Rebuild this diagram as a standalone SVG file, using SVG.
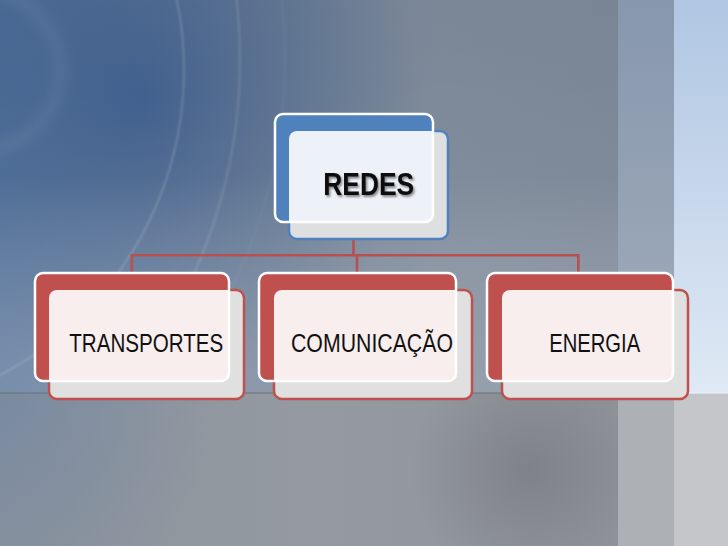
<svg xmlns="http://www.w3.org/2000/svg" width="728" height="546" viewBox="0 0 728 546">
  <defs>
    <linearGradient id="bgH" x1="0" y1="0" x2="1" y2="0">
      <stop offset="0" stop-color="#4e6d96"/>
      <stop offset="0.35" stop-color="#6c7d93"/>
      <stop offset="0.6" stop-color="#7b8797"/>
      <stop offset="1" stop-color="#788394"/>
    </linearGradient>
    <linearGradient id="bgV" x1="0" y1="0" x2="0" y2="1">
      <stop offset="0" stop-color="#ffffff" stop-opacity="0"/>
      <stop offset="0.45" stop-color="#ffffff" stop-opacity="0.04"/>
      <stop offset="1" stop-color="#c8ccd2" stop-opacity="0.35"/>
    </linearGradient>
    <radialGradient id="blob" cx="140" cy="100" r="280" gradientUnits="userSpaceOnUse">
      <stop offset="0" stop-color="#2f5288" stop-opacity="0.7"/>
      <stop offset="0.6" stop-color="#3a5b8a" stop-opacity="0.3"/>
      <stop offset="1" stop-color="#3a5b8a" stop-opacity="0"/>
    </radialGradient>
    <linearGradient id="band" x1="0" y1="0" x2="0" y2="1">
      <stop offset="0" stop-color="#8797ad"/>
      <stop offset="1" stop-color="#a2adbb"/>
    </linearGradient>
    <linearGradient id="sky" x1="0" y1="0" x2="0" y2="1">
      <stop offset="0" stop-color="#b0c6e2"/>
      <stop offset="1" stop-color="#dfe9f5"/>
    </linearGradient>
    <linearGradient id="floor" x1="0" y1="0" x2="1" y2="0">
      <stop offset="0" stop-color="#8a929c"/>
      <stop offset="0.5" stop-color="#959aa1"/>
      <stop offset="1" stop-color="#90949a"/>
    </linearGradient>
    <radialGradient id="floorDark" cx="530" cy="470" r="120" gradientUnits="userSpaceOnUse">
      <stop offset="0" stop-color="#6f7378" stop-opacity="0.55"/>
      <stop offset="1" stop-color="#6f7378" stop-opacity="0"/>
    </radialGradient>
    <radialGradient id="floorSide" cx="0" cy="400" r="220" gradientUnits="userSpaceOnUse">
      <stop offset="0" stop-color="#6a83a5" stop-opacity="0.5"/>
      <stop offset="1" stop-color="#6a83a5" stop-opacity="0"/>
    </radialGradient>
    <filter id="shadow" x="-20%" y="-30%" width="140%" height="160%">
      <feDropShadow dx="1.5" dy="2" stdDeviation="1.2" flood-color="#000" flood-opacity="0.45"/>
    </filter>
    <filter id="soft" x="-50%" y="-50%" width="200%" height="200%">
      <feGaussianBlur stdDeviation="6"/>
    </filter>
    <filter id="soft1" x="-10%" y="-10%" width="120%" height="120%">
      <feGaussianBlur stdDeviation="0.8"/>
    </filter>
  </defs>
  <style>
    .arc { fill: none; stroke: #ffffff; }
    .conn { fill: none; stroke: #b8504d; stroke-width: 2.6; }
    .frontR { fill: #e0e0e0; stroke: #c0504d; stroke-width: 2.5; }
    .backR { fill: #c0504d; }
    .ovR { fill: #f8eeee; }
    .frontB { fill: #dedfe1; stroke: #4f81bd; stroke-width: 2.5; }
    .backB { fill: #4f81bd; }
    .ovB { fill: #edf2f9; }
    .edge { fill: none; stroke: #ffffff; stroke-width: 2.5; }
    .lbl { font-family: "Liberation Sans", Arial, sans-serif; font-size: 26px; fill: #111111; text-anchor: middle; }
    .title { font-family: "Liberation Sans", Arial, sans-serif; font-size: 32px; font-weight: bold; fill: #0a0a0a; text-anchor: middle; }
  </style>

  <!-- background -->
  <g id="background">
    <rect x="0" y="0" width="728" height="393" fill="url(#bgH)"/>
    <rect x="0" y="0" width="728" height="393" fill="url(#blob)"/>
    <rect x="0" y="0" width="728" height="393" fill="url(#bgV)"/>
    <circle cx="-20" cy="70" r="80" class="arc" stroke-width="14" stroke-opacity="0.06" filter="url(#soft)"/>
    <g filter="url(#soft1)">
      <circle cx="-161" cy="70" r="345" class="arc" stroke-width="1.6" stroke-opacity="0.2"/>
      <circle cx="-280" cy="60" r="520" class="arc" stroke-width="1.6" stroke-opacity="0.16"/>
      <circle cx="-230" cy="60" r="515" class="arc" stroke-width="1" stroke-opacity="0.07"/>
    </g>
    <rect x="618" y="0" width="56" height="393" fill="url(#band)"/>
    <rect x="674" y="0" width="54" height="393" fill="url(#sky)"/>
    <rect x="0" y="393" width="618" height="153" fill="url(#floor)"/>
    <rect x="0" y="393" width="618" height="153" fill="url(#floorSide)"/>
    <rect x="0" y="393" width="618" height="153" fill="url(#floorDark)"/>
    <rect x="618" y="393" width="56" height="153" fill="#adb0b4"/>
    <rect x="674" y="393" width="54" height="153" fill="#c4c6c9"/>
    <line x1="0" y1="393" x2="674" y2="393" stroke="#6c7178" stroke-width="1.2"/>
    <line x1="674" y1="393" x2="728" y2="393" stroke="#f2f4f7" stroke-width="1.2"/>
  </g>

  <!-- connectors -->
  <g id="connectors">
    <line x1="353.5" y1="222" x2="353.5" y2="239" stroke="#f4f4f4" stroke-width="2" stroke-opacity="0.8"/>
    <path class="conn" d="M353.5,240 V255.3"/>
    <path class="conn" d="M131.8,273 V255.3 H578.3 V273"/>
    <path class="conn" d="M357,255.3 V273"/>
  </g>

  <!-- REDES -->
  <g id="node-redes">
    <rect class="frontB" x="289" y="131" width="159" height="108" rx="8"/>
    <rect class="backB" x="275" y="114" width="158" height="108" rx="8"/>
    <path class="ovB" d="M289,139 A8,8 0 0 1 297,131 H433 V214 A8,8 0 0 1 425,222 H289 Z"/>
    <rect class="edge" x="275" y="114" width="158" height="108" rx="8"/>
    <text class="title" x="368.7" y="195" textLength="91" lengthAdjust="spacingAndGlyphs" filter="url(#shadow)">REDES</text>
  </g>

  <!-- TRANSPORTES -->
  <g id="node-transportes">
    <rect class="frontR" x="49" y="290" width="195" height="109" rx="8"/>
    <rect class="backR" x="35" y="273" width="194" height="108" rx="8"/>
    <path class="ovR" d="M49,298 A8,8 0 0 1 57,290 H229 V373 A8,8 0 0 1 221,381 H49 Z"/>
    <rect class="edge" x="35" y="273" width="194" height="108" rx="8"/>
    <text class="lbl" x="146.3" y="352.3" textLength="154" lengthAdjust="spacingAndGlyphs">TRANSPORTES</text>
  </g>

  <!-- COMUNICAÇÃO -->
  <g id="node-comunicacao">
    <rect class="frontR" x="274" y="290" width="198" height="109" rx="8"/>
    <rect class="backR" x="259" y="273" width="197" height="108" rx="8"/>
    <path class="ovR" d="M274,298 A8,8 0 0 1 282,290 H456 V373 A8,8 0 0 1 448,381 H274 Z"/>
    <rect class="edge" x="259" y="273" width="197" height="108" rx="8"/>
    <text class="lbl" x="372" y="352.3" textLength="162" lengthAdjust="spacingAndGlyphs">COMUNICAÇÃO</text>
  </g>

  <!-- ENERGIA -->
  <g id="node-energia">
    <rect class="frontR" x="502" y="290" width="186" height="109" rx="8"/>
    <rect class="backR" x="487" y="273" width="186" height="108" rx="8"/>
    <path class="ovR" d="M502,298 A8,8 0 0 1 510,290 H673 V373 A8,8 0 0 1 665,381 H502 Z"/>
    <rect class="edge" x="487" y="273" width="186" height="108" rx="8"/>
    <text class="lbl" x="594.7" y="352.3" textLength="91" lengthAdjust="spacingAndGlyphs">ENERGIA</text>
  </g>
</svg>
